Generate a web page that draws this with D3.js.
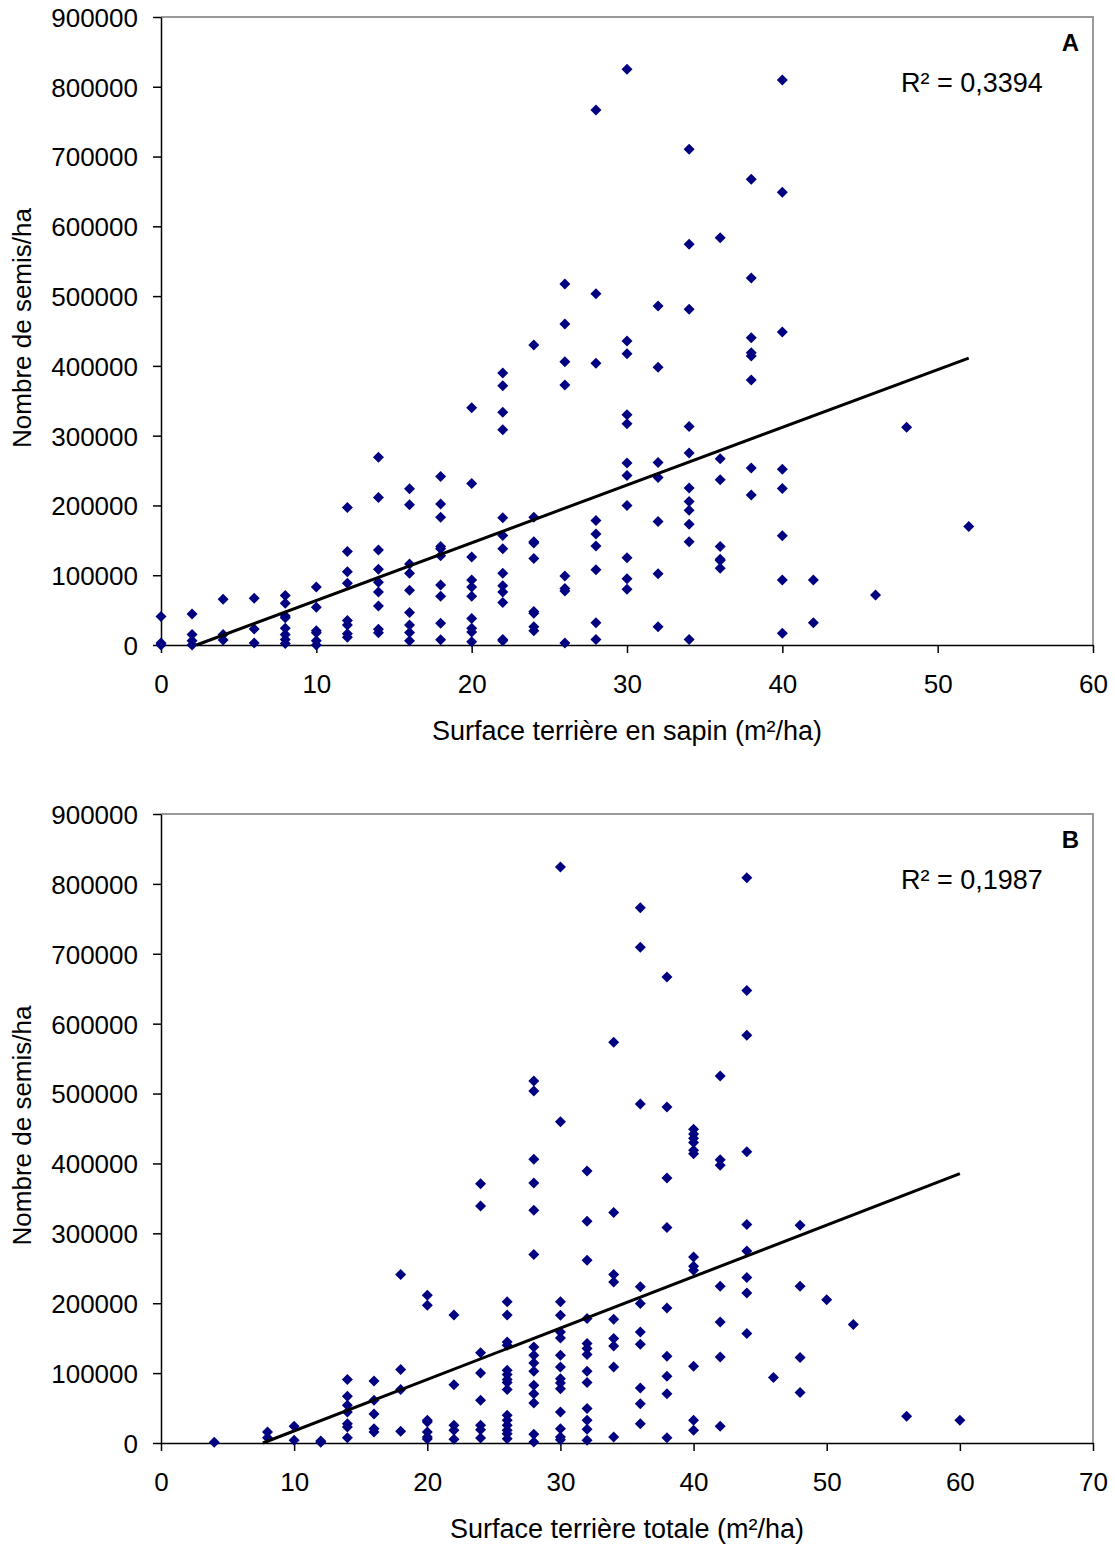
<!DOCTYPE html>
<html>
<head>
<meta charset="utf-8">
<script src="https://cdn.jsdelivr.net/npm/d3@7"></script>
<style>
    body { margin: 0; background: #fff; }
    svg text { font-family: "Liberation Sans", Arial, sans-serif; fill: #000; }
    .axis path, .axis line { stroke: #000; stroke-width: 1.5; }
    .axis text { font-size: 26px; }
</style>
</head>
<body>
<div id="chart"></div>
<script>
// surface terriere en sapin (m2/ha) -> nombre de semis/ha
var sapinX = [0, 2, 4, 6, 8, 10, 12, 14, 16, 18, 20, 22, 24, 26, 28, 30, 32, 34, 36, 38, 40, 42, 46, 48, 52];
var sapinSemis = [
    [41000, 3000, 0],
    [44500, 15000, 6000, 0],
    [65500, 15000, 7000],
    [67000, 23000, 3000],
    [71000, 60000, 41500, 39000, 24000, 15000, 8000, 2000],
    [83000, 54000, 20500, 17700, 6000, 0],
    [197000, 134000, 105000, 88500, 35000, 28700, 16000, 11000],
    [269000, 211500, 136000, 108600, 90000, 76000, 56000, 22500, 17700],
    [224000, 201000, 116000, 103000, 78500, 46400, 28700, 18000, 6000],
    [241600, 202000, 183000, 141000, 138000, 128000, 86000, 70000, 31000, 7700],
    [340000, 231600, 126000, 93000, 83000, 70000, 38000, 24000, 18700, 4800],
    [389800, 371600, 333500, 308600, 182300, 157000, 138000, 103000, 85000, 76000, 60800, 8000, 6000],
    [430000, 183000, 148000, 146000, 124000, 48000, 45500, 26000, 20500],
    [517400, 460000, 406000, 372600, 99000, 81000, 77500, 3000],
    [766700, 503500, 403700, 178500, 159000, 142000, 107700, 32000, 8000],
    [825000, 435700, 417500, 330000, 317000, 261000, 243000, 200000, 125000, 95000, 80000],
    [485800, 398000, 261700, 240000, 177000, 102000, 26000],
    [710400, 574200, 481100, 313000, 275000, 225000, 205700, 193000, 173000, 148000, 8000],
    [583700, 267000, 237000, 141000, 123000, 121000, 110000],
    [667400, 526000, 440400, 419000, 414200, 379800, 253600, 214800],
    [809700, 648800, 448600, 252000, 224400, 156500, 93000, 16700],
    [93000, 32000],
    [71800],
    [312000],
    [170000]
];

// surface terriere totale (m2/ha) -> nombre de semis/ha
var totaleX = [4, 8, 10, 12, 14, 16, 18, 20, 22, 24, 26, 28, 30, 32, 34, 36, 38, 40, 42, 44, 46, 48, 50, 52, 56, 60];
var totaleSemis = [
    [1000],
    [15800, 7600],
    [23900, 3800],
    [2900, 1000],
    [90700, 66800, 54000, 44400, 27700, 22900, 7600],
    [88800, 61100, 41500, 20500, 15800],
    [241000, 105000, 76400, 16700],
    [211500, 197000, 32500, 30000, 15800, 8600, 5700],
    [183300, 83500, 25300, 18100, 5300],
    [371000, 339000, 129000, 100200, 61000, 25300, 19000, 7200],
    [202000, 183000, 144600, 140000, 104000, 97900, 90700, 86400, 76400, 39600, 32500, 25300, 18100, 13400, 6200],
    [517900, 503600, 405900, 372000, 333200, 269700, 137500, 125500, 114600, 102600, 82600, 70600, 57300, 12400, 1400],
    [824000, 459800, 202000, 182800, 159000, 150300, 125500, 108800, 92100, 85900, 77800, 44400, 20500, 8600, 4800],
    [389100, 317400, 261600, 178000, 142200, 135100, 126500, 102600, 86400, 49200, 32500, 19600, 3800],
    [573300, 329800, 241000, 230500, 177100, 149400, 138900, 108800, 8600],
    [766000, 709200, 485000, 223400, 199500, 159000, 141300, 78800, 56300, 27700],
    [666700, 480700, 379100, 308400, 193300, 124100, 95500, 70600, 7600],
    [449000, 442000, 436000, 430000, 419000, 414000, 266300, 253000, 247300, 109800, 32500, 18100],
    [525000, 405400, 397300, 224300, 173300, 123200, 23900],
    [808900, 647600, 583300, 416900, 312600, 274900, 236800, 214800, 156600],
    [93600],
    [311700, 224300, 122200, 72100],
    [204800],
    [169500],
    [38200],
    [32500]
];

// droites de tendance
var trendA = [8270, -18900, 52];   // pente, ordonnee, x max
var trendB = [7360, -56300, 60];

var yTicks = [0, 100000, 200000, 300000, 400000, 500000, 600000, 700000, 800000, 900000];
var xTicksA = [0, 10, 20, 30, 40, 50, 60];
var xTicksB = [0, 10, 20, 30, 40, 50, 60, 70];

var width = 1115,
    height = 1545;

var svg = d3.select("#chart").append("svg")
    .attr("width", width)
    .attr("height", height);

var diamond = "M0,-5.5L5.5,0L0,5.5L-5.5,0Z";

function flatten(xs, ys) {
    var pts = [];
    xs.forEach(function (x, i) {
        ys[i].forEach(function (v) {
            pts.push({x: x, y: v});
        });
    });
    return pts;
}

function drawPanel(opt) {
    var left = 161, right = 1093;
    var x = d3.scaleLinear().domain([0, opt.xMax]).range([left, right]);
    var y = d3.scaleLinear().domain([0, 900000]).range([opt.bottom, opt.top]);

    var g = svg.append("g");

    // cadre haut / droite
    g.append("path")
        .attr("d", "M" + left + "," + opt.top + "H" + right + "V" + opt.bottom)
        .attr("fill", "none")
        .attr("stroke", "#999")
        .attr("stroke-width", 2);

    g.append("g")
        .attr("class", "axis")
        .attr("transform", "translate(" + left + ",0)")
        .call(d3.axisLeft(y).tickValues(yTicks).tickFormat(d3.format("d")).tickSize(8).tickPadding(15).tickSizeOuter(0))
        .call(function (a) { a.selectAll("text").attr("dy", "0.36em"); });

    g.append("g")
        .attr("class", "axis")
        .attr("transform", "translate(0," + opt.bottom + ")")
        .call(d3.axisBottom(x).tickValues(opt.xTicks).tickSize(8).tickPadding(22).tickSizeOuter(0));

    // points
    g.selectAll("path.pt")
        .data(flatten(opt.xs, opt.ys))
        .enter().append("path")
        .attr("class", "pt")
        .attr("d", diamond)
        .attr("fill", "#000080")
        .attr("transform", function (d) {
            return "translate(" + x(d.x) + "," + y(d.y) + ")";
        });

    // tendance
    var t = opt.trend;
    var x0 = Math.max(0, -t[1] / t[0]);
    g.append("line")
        .attr("x1", x(x0))
        .attr("y1", y(t[0] * x0 + t[1]))
        .attr("x2", x(t[2]))
        .attr("y2", y(t[0] * t[2] + t[1]))
        .attr("stroke", "#000")
        .attr("stroke-width", 3);

    g.append("text")
        .attr("x", 901)
        .attr("y", opt.top + 75)
        .style("font-size", "27px")
        .text(opt.r2);

    g.append("text")
        .attr("x", 1079)
        .attr("y", opt.top + 34)
        .style("font-size", "24px")
        .style("font-weight", "bold")
        .style("text-anchor", "end")
        .text(opt.letter);

    g.append("text")
        .attr("transform", "translate(31," + ((opt.top + opt.bottom) / 2 - 3) + ") rotate(-90)")
        .style("text-anchor", "middle")
        .style("font-size", "26px")
        .text("Nombre de semis/ha");

    g.append("text")
        .attr("x", 627)
        .attr("y", opt.bottom + 95)
        .style("text-anchor", "middle")
        .style("font-size", "27px")
        .text(opt.xLabel);
}

drawPanel({
    top: 17, bottom: 645, xMax: 60, xTicks: xTicksA,
    xs: sapinX, ys: sapinSemis, trend: trendA,
    r2: "R² = 0,3394", letter: "A",
    xLabel: "Surface terrière en sapin (m²/ha)"
});

drawPanel({
    top: 814, bottom: 1443, xMax: 70, xTicks: xTicksB,
    xs: totaleX, ys: totaleSemis, trend: trendB,
    r2: "R² = 0,1987", letter: "B",
    xLabel: "Surface terrière totale (m²/ha)"
});
</script>
</body>
</html>
